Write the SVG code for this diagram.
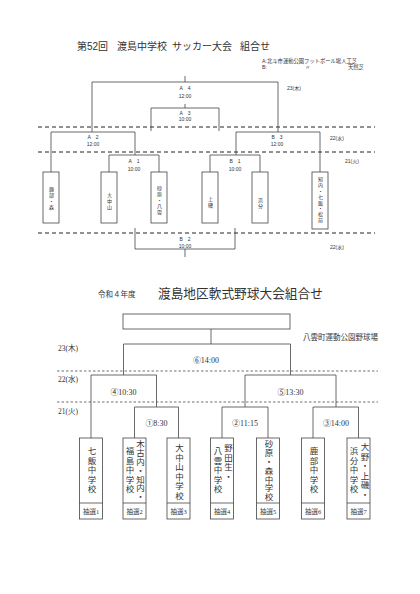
<svg xmlns="http://www.w3.org/2000/svg" width="420" height="594" viewBox="0 0 420 594">
<style>
.ln{fill:none;stroke:#444;stroke-width:0.8}
.d1{fill:none;stroke:#222;stroke-width:1;stroke-dasharray:4 3}
.d2{fill:none;stroke:#333;stroke-width:0.7;stroke-dasharray:2.5 2}
.box{fill:#fff;stroke:#444;stroke-width:0.8}
.s{font-family:"Liberation Sans","Noto Sans CJK JP",sans-serif;fill:#333}
.m{font-family:"Liberation Serif","Noto Sans CJK JP",serif;fill:#333}
.t5{font-size:5px;text-anchor:middle}
.v{writing-mode:vertical-rl}
.tv{font-size:5px;letter-spacing:0.8px}
.bv{font-size:8.5px;letter-spacing:1px}
.bv7{font-size:8.5px;letter-spacing:0.3px}
.lab{font-size:8px;text-anchor:middle}
.dt{font-size:7.5px}
.lot{font-size:6.5px;text-anchor:middle}
</style>
<rect width="420" height="594" fill="#fff"/>

<!-- Top section (soccer) -->
<g id="soccer-title" class="s">
<text x="77" y="50" font-size="10">第52回</text>
<text x="117" y="50" font-size="10">渡島中学校</text>
<text x="172" y="50" font-size="10">サッカー大会</text>
<text x="240" y="50" font-size="10">組合せ</text>
<text x="262" y="63" font-size="5.3">A:北斗市運動公園フットボール場人工芝</text>
<text x="262" y="69" font-size="5.3">B:</text>
<text x="305" y="69" font-size="5.3">〃</text>
<text x="348" y="69" font-size="5.3">天然芝</text>
</g>

<g id="soccer-connectors">
<line class="d1" x1="38" y1="127" x2="375" y2="127"/>
<line class="d1" x1="38" y1="152" x2="375" y2="152"/>
<line class="d1" x1="38" y1="233" x2="375" y2="233"/>
<path class="ln" d="M185,76 V82"/>
<path class="ln" d="M92,132 V82 H278 V132"/>
<path class="ln" d="M185,104 V108"/>
<path class="ln" d="M151,131 V108 H219 V131"/>
<path class="ln" d="M51,172 V132 H135 V155"/>
<path class="ln" d="M109,172 V155 H159 V172"/>
<path class="ln" d="M236,155 V132 H320 V172"/>
<path class="ln" d="M210,172 V155 H260 V172"/>
<path class="ln" d="M135,228 V249 H235 V228"/>
<path class="ln" d="M185,249 V257"/>
</g>

<g id="soccer-matches" class="s">
<g id="s-A4"><text class="t5" x="185" y="90">A　4</text><text class="t5" x="185" y="98">12:00</text></g>
<g id="s-A3"><text class="t5" x="185" y="115">A　3</text><text class="t5" x="185" y="121">10:00</text></g>
<g id="s-A2"><text class="t5" x="93" y="139">A　2</text><text class="t5" x="93" y="146">12:00</text></g>
<g id="s-B3"><text class="t5" x="277" y="139">B　3</text><text class="t5" x="277" y="146">12:00</text></g>
<g id="s-A1"><text class="t5" x="134" y="163">A　1</text><text class="t5" x="134" y="171">10:00</text></g>
<g id="s-B1"><text class="t5" x="235" y="163">B　1</text><text class="t5" x="235" y="171">10:00</text></g>
<g id="s-B2"><text class="t5" x="185" y="241">B　2</text><text class="t5" x="185" y="248">10:00</text></g>
<text x="287" y="90" font-size="5">23(木)</text>
<text x="330" y="140" font-size="5">22(水)</text>
<text x="345" y="163" font-size="5">21(火)</text>
<text x="330" y="249" font-size="5">22(水)</text>
</g>

<g id="s-team1"><rect class="box" x="43" y="172" width="16" height="51"/><text class="s v tv" x="51" y="187">鹿部・森</text></g>
<g id="s-team2"><rect class="box" x="101" y="172" width="16" height="51"/><text class="s v tv" x="109" y="193">大中山</text></g>
<g id="s-team3"><rect class="box" x="151" y="172" width="16" height="51"/><text class="s v tv" x="159" y="186">砂原・八雲</text></g>
<g id="s-team4"><rect class="box" x="202" y="172" width="16" height="51"/><text class="s v tv" x="210" y="197">上磯</text></g>
<g id="s-team5"><rect class="box" x="252" y="172" width="16" height="51"/><text class="s v tv" x="260" y="198">浜分</text></g>
<g id="s-team6"><rect class="box" x="312" y="172" width="16" height="57"/><text class="s v tv" x="320" y="177">知内・七飯・松前</text></g>

<!-- Bottom section (baseball) -->
<g id="baseball-title" class="m">
<text x="98" y="297" font-size="7.5">令和４年度</text>
<text x="158" y="298" font-size="12.7">渡島地区軟式野球大会組合せ</text>
<text x="303" y="340" font-size="7.5">八雲町運動公園野球場</text>
</g>

<g id="baseball-connectors">
<line class="d2" x1="57" y1="371" x2="378" y2="371"/>
<line class="d2" x1="57" y1="402" x2="378" y2="402"/>
<path class="ln" d="M211,329 V344"/>
<path class="ln" d="M123.5,375 V344 H290.5 V375"/>
<path class="ln" d="M91,438 V375 H156.5 V407"/>
<path class="ln" d="M134.5,438 V407 H178.5 V438"/>
<path class="ln" d="M245,407 V375 H336 V407"/>
<path class="ln" d="M222,438 V407 H268 V438"/>
<path class="ln" d="M313,438 V407 H358.5 V438"/>
</g>

<g id="b-top"><rect class="box" x="123" y="314" width="167" height="15"/></g>

<g id="b-matches" class="m">
<g id="b-m6"><text class="lab" x="206" y="363">⑥14:00</text></g>
<g id="b-m4"><text class="lab" x="123.5" y="395">④10:30</text></g>
<g id="b-m5"><text class="lab" x="290.5" y="395">⑤13:30</text></g>
<g id="b-m1"><text class="lab" x="156.5" y="426">①8:30</text></g>
<g id="b-m2"><text class="lab" x="245" y="426">②11:15</text></g>
<g id="b-m3"><text class="lab" x="336" y="426">③14:00</text></g>
<text class="dt" x="58" y="351">23(木)</text>
<text class="dt" x="58" y="382">22(水)</text>
<text class="dt" x="58" y="414">21(火)</text>
</g>

<g id="b-team1"><rect class="box" x="79.5" y="438" width="23" height="81"/><line class="ln" x1="79.5" y1="503" x2="102.5" y2="503"/>
<text class="m v bv" x="91" y="447">七飯中学校</text><text class="m lot" x="91" y="514">抽選1</text></g>
<g id="b-team2"><rect class="box" x="123" y="438" width="23" height="81"/><line class="ln" x1="123" y1="503" x2="146" y2="503"/>
<text class="m v bv7" x="139.5" y="440">木古内・知内・</text><text class="m v bv" x="129" y="447">福島中学校</text><text class="m lot" x="134.5" y="514">抽選2</text></g>
<g id="b-team3"><rect class="box" x="167" y="438" width="23" height="81"/><line class="ln" x1="167" y1="503" x2="190" y2="503"/>
<text class="m v bv" x="178.5" y="444">大中山中学校</text><text class="m lot" x="178.5" y="514">抽選3</text></g>
<g id="b-team4"><rect class="box" x="210.5" y="438" width="23" height="81"/><line class="ln" x1="210.5" y1="503" x2="233.5" y2="503"/>
<text class="m v bv" x="227.5" y="444">野田生・</text><text class="m v bv" x="217" y="447">八雲中学校</text><text class="m lot" x="222" y="514">抽選4</text></g>
<g id="b-team5"><rect class="box" x="256.5" y="438" width="23" height="81"/><line class="ln" x1="256.5" y1="503" x2="279.5" y2="503"/>
<text class="m v bv7" x="268" y="440">砂原・森中学校</text><text class="m lot" x="268" y="514">抽選5</text></g>
<g id="b-team6"><rect class="box" x="301.5" y="438" width="23" height="81"/><line class="ln" x1="301.5" y1="503" x2="324.5" y2="503"/>
<text class="m v bv" x="313" y="447">鹿部中学校</text><text class="m lot" x="313" y="514">抽選6</text></g>
<g id="b-team7"><rect class="box" x="347" y="438" width="23" height="81"/><line class="ln" x1="347" y1="503" x2="370" y2="503"/>
<text class="m v bv" x="364" y="443">大野・上磯・</text><text class="m v bv" x="353" y="447">浜分中学校</text><text class="m lot" x="358.5" y="514">抽選7</text></g>
</svg>
